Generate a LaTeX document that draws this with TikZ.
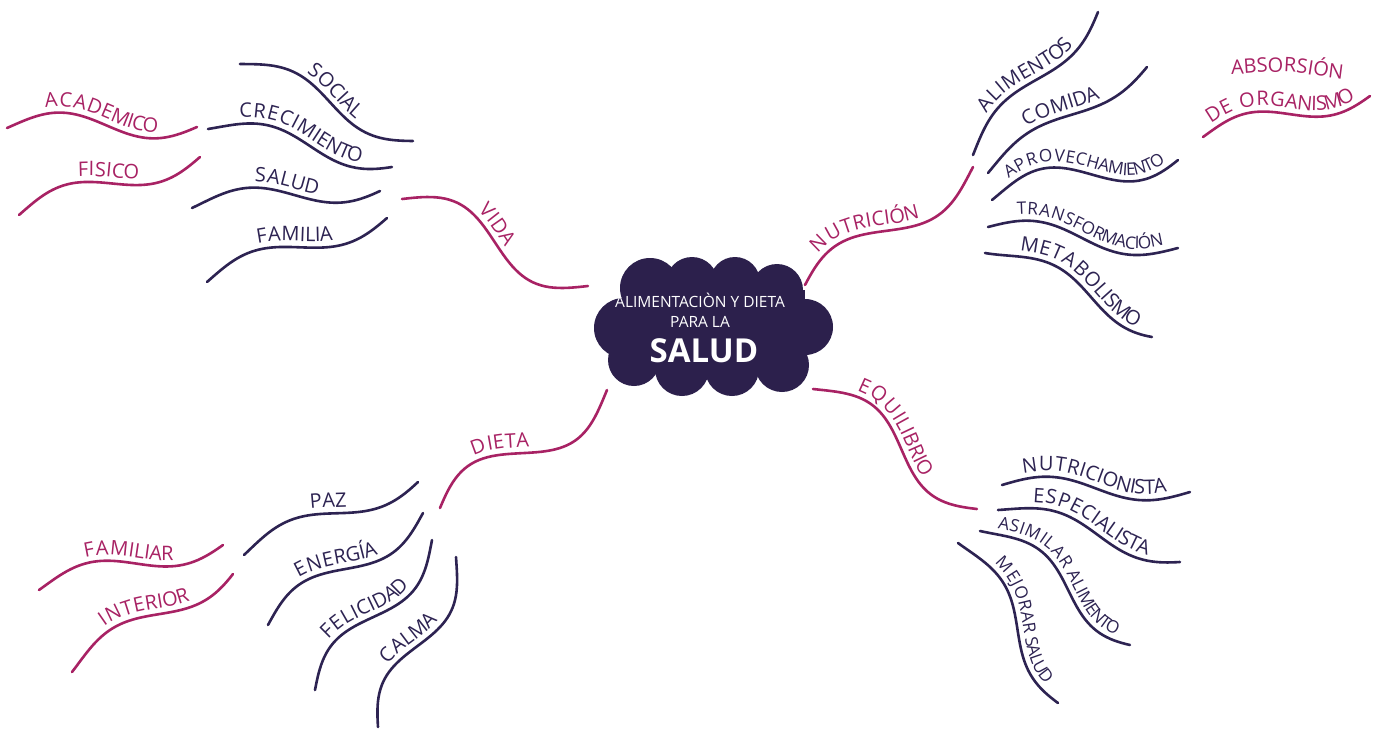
\documentclass[tikz,border=0pt]{standalone}
\usepackage{fontspec}
\setmainfont{Open Sans}
\usetikzlibrary{decorations.text}
\definecolor{dkc}{RGB}{45,35,82}
\definecolor{mgc}{RGB}{168,34,100}
\definecolor{cloudc}{RGB}{44,32,76}
\newcommand\mgf{\color{mgc}\fontsize{10}{10}\selectfont}
\newcommand\dkf{\color{dkc}\fontsize{10}{10}\selectfont}
\newcommand\dks{\color{dkc}\fontsize{8.6}{8.6}\selectfont}
\tikzset{
  br/.style={line width=1.3pt, line cap=round, line join=round},
  dk/.style={br, draw=dkc},
  mg/.style={br, draw=mgc},
  lab/.style n args={3}{postaction={decorate, decoration={text along path, text align={#2}, raise=#3, text={#1}}}},
}
% wave: start, end, amplitude A, asymmetry B
\def\setwave(#1,#2)(#3,#4)#5#6{\def\sx{#1}\def\sy{#2}\def\ex{#3}\def\ey{#4}\def\wa{#5}\def\wb{#6}\pgfmathsetmacro\wl{veclen(#3-#1,#4-#2)}}
% #1 line style, #2 text, #3 alignment, #4 raise
\newcommand\wv[4]{\draw[#1, lab={#2}{#3}{#4}] plot[domain=0:1, samples=49, variable=\x]
  ({\sx+\x*(\ex-\sx)+((\wa)*sin(360*\x)+(\wb)*(1-cos(360*\x)))*(\ey-\sy)/\wl},
   {\sy+\x*(\ey-\sy)-((\wa)*sin(360*\x)+(\wb)*(1-cos(360*\x)))*(\ex-\sx)/\wl});}
\begin{document}
\begin{tikzpicture}[x=0.5pt, y=-0.5pt]
\useasboundingbox (0,0) rectangle (1386,728);
\fill[white] (0,0) rectangle (1386,728);

% ---------- central cloud ----------
\fill[cloudc] (624,328) circle[radius=30];
\fill[cloudc] (650,288) circle[radius=30];
\fill[cloudc] (692,283) circle[radius=26];
\fill[cloudc] (735,282) circle[radius=25];
\fill[cloudc] (777,290) circle[radius=26];
\fill[cloudc] (805,327) circle[radius=28];
\fill[cloudc] (782,365) circle[radius=27];
\fill[cloudc] (732,369) circle[radius=27];
\fill[cloudc] (682,369) circle[radius=27];
\fill[cloudc] (634,360) circle[radius=26];
\fill[cloudc] (630,290) rectangle (805,372);
\node[anchor=base, text=white, font=\fontsize{7.75}{8}\selectfont, inner sep=0pt] (cl1) at (700,307) {ALIMENTACIÒN Y DIETA};
\node[anchor=base, text=white, font=\fontsize{7.75}{8}\selectfont, inner sep=0pt] (cl2) at (700,327) {PARA LA};
\node[anchor=base, text=white, font=\bfseries\fontsize{16.5}{17}\selectfont, inner sep=0pt] (cl3) at (704,362) {SALUD};

% ---------- VIDA ----------
\setwave(402,199)(588,286){20}{0}\wv{mg}{|\mgf|VIDA}{left, left indent=38pt}{3pt}
\setwave(7,128)(197,127){13}{2}\wv{mg}{|\mgf|ACADEMICO}{center}{3pt}
\setwave(19,215)(200,157){13}{1.5}\wv{mg}{|\mgf|FISICO}{center}{3pt}
\setwave(240,64)(413,141){13}{1.5}\wv{dk}{|\dkf|SOCIAL}{center}{3pt}
\setwave(208,129)(392,167){11.3}{3.8}\wv{dk}{|\dkf|CRECIMIENTO}{center}{3pt}
\setwave(192,208)(380,191){11}{3.5}\wv{dk}{|\dkf|SALUD}{center}{3pt}
\setwave(207,282)(387,218){12}{1.5}\wv{dk}{|\dkf|FAMILIA}{center}{3pt}

% ---------- NUTRICION ----------
\setwave(805,285)(973,167){16.8}{-2.5}\wv{mg}{|\mgf|NUTRICIÓN}{left, left indent=16pt}{3pt}
\setwave(973,155)(1098,12){10.5}{1.5}\wv{dk}{|\dkf|ALIMENTOS}{center}{3pt}
\setwave(988,173)(1147,67){9}{2}\wv{dk}{|\dkf|COMIDA}{center}{3pt}
\setwave(992,200)(1178,160){15.5}{4}\wv{dk}{|\dks|APROVECHAMIENTO}{left, left indent=13pt}{3pt}
\setwave(988,227)(1178,248){11.5}{-0.5}\wv{dk}{|\dks|TRANSFORMACIÓN}{left, left indent=15pt}{3pt}
\setwave(985,253)(1152,337){9}{8}\wv{dk}{|\dkf|METABOLISMO}{left, left indent=17pt}{3pt}
\setwave(1203,137)(1370,96){11}{1.5}\wv{mg}{|\mgf|DE ORGANISMO}{center}{3pt}
\setwave(1224,74)(1350,80){0}{2.5}\wv{draw=none}{|\mgf|ABSORSIÓN}{center}{0pt}

% ---------- EQUILIBRIO ----------
\setwave(813,389)(977,509){18.5}{3.3}\wv{mg}{|\mgf|EQUILIBRIO}{left, left indent=21pt}{3pt}
\setwave(1002,485)(1190,492){10}{0}\wv{dk}{|\dkf|NUTRICIONISTA}{center}{3pt}
\setwave(998,510)(1180,562){10.7}{3.2}\wv{dk}{|\dkf|ESPECIALISTA}{center}{3pt}
\setwave(980,531)(1130,645){13.7}{6}\wv{dk}{|\dks|ASIMILAR ALIMENTO}{center}{3pt}
\setwave(958,543)(1058,703){12}{4.5}\wv{dk}{|\dks|MEJORAR SALUD}{left, left indent=20pt}{3pt}

% ---------- DIETA ----------
\setwave(440,508)(607,390){20.4}{-2.4}\wv{mg}{|\mgf|DIETA}{left, left indent=30pt}{3pt}
\setwave(39,590)(223,545){12}{2.5}\wv{mg}{|\mgf|FAMILIAR}{center}{3pt}
\setwave(72,672)(233,574){11.4}{4.1}\wv{mg}{|\mgf|INTERIOR}{left, left indent=27pt}{3pt}
\setwave(244,555)(418,482){11.2}{2.7}\wv{dk}{|\dkf|PAZ}{center}{3pt}
\setwave(268,625)(423,513){14.5}{0}\wv{dk}{|\dkf|ENERGÍA}{left, left indent=27pt}{3pt}
\setwave(315,690)(432,540){15.5}{-1}\wv{dk}{|\dkf|FELICIDAD}{left, left indent=25pt}{3pt}
\setwave(378,727)(456,557){16}{-2}\wv{dk}{|\dkf|CALMA}{left, left indent=31pt}{3pt}
\end{tikzpicture}
\end{document}
